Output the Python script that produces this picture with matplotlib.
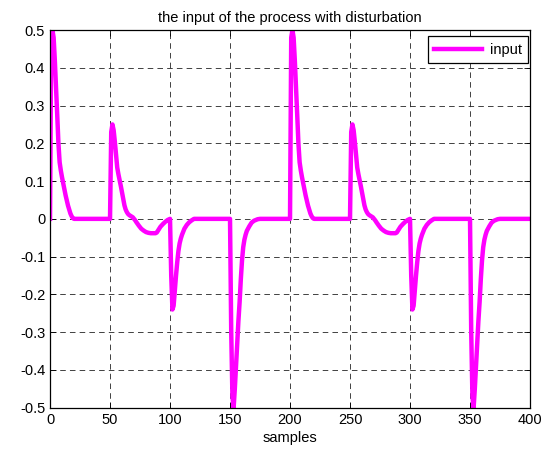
import numpy as np
import matplotlib.pyplot as plt

### Data ###
samples = [0, 1, 2, 3, 4, 5, 6, 7, 8, 9, 10, 11, 12, 13, 14, 15, 16, 17, 18, 19, 20,
           50, 51, 52, 53, 54, 55, 56, 57, 58, 59, 60, 61, 62, 63, 64, 65, 66, 67, 68, 69,
           70, 71, 72, 74, 76, 78, 80, 82, 84, 88, 89, 90, 91, 92, 94, 96, 98,
           100, 101, 102, 103, 104, 105, 106, 107, 108, 109, 110, 112, 114, 116, 118, 120,
           150, 151, 152, 153, 154, 155, 156, 157, 158, 159, 160, 161, 162, 163, 164, 166,
           168, 170, 173, 175,
           200, 201, 202, 203, 204, 205, 206, 207, 208, 209, 210, 211, 212, 213, 214, 215,
           216, 217, 218, 219, 220,
           250, 251, 252, 253, 254, 255, 256, 257, 258, 259, 260, 261, 262, 263, 264, 265,
           266, 267, 268, 269, 270, 271, 272, 274, 276, 278, 280, 282, 284, 288, 289, 290,
           291, 292, 294, 296, 298,
           300, 301, 302, 303, 304, 305, 306, 307, 308, 309, 310, 312, 314, 316, 318, 320,
           350, 351, 352, 353, 354, 355, 356, 357, 358, 359, 360, 361, 362, 363, 364, 366,
           368, 370, 373, 375, 400]

u = [0, 0.48, 0.5, 0.48, 0.42, 0.35, 0.275, 0.2, 0.15, 0.128, 0.11, 0.094, 0.078, 0.062,
     0.048, 0.035, 0.024, 0.014, 0.007, 0.002, 0,
     0, 0.23, 0.25, 0.235, 0.205, 0.17, 0.136, 0.118, 0.103, 0.087, 0.07, 0.052, 0.036,
     0.025, 0.018, 0.013, 0.01, 0.008, 0.006, 0.004,
     0, -0.004, -0.009, -0.018, -0.026, -0.031, -0.035, -0.037, -0.038, -0.038, -0.036,
     -0.031, -0.026, -0.021, -0.014, -0.008, -0.003,
     0, -0.15, -0.24, -0.23, -0.19, -0.15, -0.115, -0.085, -0.065, -0.052, -0.042, -0.026,
     -0.016, -0.009, -0.004, 0,
     0, -0.3, -0.47, -0.5, -0.45, -0.39, -0.33, -0.27, -0.22, -0.16, -0.11, -0.075, -0.055,
     -0.042, -0.032, -0.02, -0.01, -0.005, -0.001, 0,
     0, 0.48, 0.5, 0.48, 0.42, 0.35, 0.275, 0.2, 0.15, 0.128, 0.11, 0.094, 0.078, 0.062,
     0.048, 0.035, 0.024, 0.014, 0.007, 0.002, 0,
     0, 0.23, 0.25, 0.235, 0.205, 0.17, 0.136, 0.118, 0.103, 0.087, 0.07, 0.052, 0.036,
     0.025, 0.018, 0.013, 0.01, 0.008, 0.006, 0.004,
     0, -0.004, -0.009, -0.018, -0.026, -0.031, -0.035, -0.037, -0.038, -0.038, -0.036,
     -0.031, -0.026, -0.021, -0.014, -0.008, -0.003,
     0, -0.15, -0.24, -0.23, -0.19, -0.15, -0.115, -0.085, -0.065, -0.052, -0.042, -0.026,
     -0.016, -0.009, -0.004, 0,
     0, -0.3, -0.47, -0.5, -0.45, -0.39, -0.33, -0.27, -0.22, -0.16, -0.11, -0.075, -0.055,
     -0.042, -0.032, -0.02, -0.01, -0.005, -0.001, 0, 0]

xticks = [0, 50, 100, 150, 200, 250, 300, 350, 400]
yticks = [-0.5, -0.4, -0.3, -0.2, -0.1, 0, 0.1, 0.2, 0.3, 0.4, 0.5]
ytick_labels = ['-0.5', '-0.4', '-0.3', '-0.2', '-0.1', '0', '0.1', '0.2', '0.3', '0.4', '0.5']

### Plotting ###
plt.rcParams['font.family'] = ['Liberation Sans', 'DejaVu Sans']
plt.rcParams['font.size'] = 10.5
plt.rcParams['lines.scale_dashes'] = False

fig = plt.figure(figsize=(5.54, 4.5), dpi=100)
ax = fig.add_axes([0.0903, 0.094, 0.8664, 0.8393])

ax.plot(samples, u, color='#ff00ff', lw=3.2, label='input', solid_joinstyle='round')

ax.set_xlim(0, 400)
ax.set_ylim(-0.5, 0.5)
ax.set_xticks(xticks)
ax.set_yticks(yticks)
ax.set_yticklabels(ytick_labels)
ax.tick_params(direction='in', length=4, width=0.6, top=True, right=True, pad=3.5)
ax.grid(True, color='#222222', lw=0.6, linestyle=(0, (4, 3)))
for sp in ax.spines.values():
    sp.set_linewidth(0.9)

ax.set_title('the input of the process with disturbation', fontsize=10.5, pad=6)
ax.set_xlabel('samples', labelpad=3)

leg = ax.legend(loc='upper right', bbox_to_anchor=(0.996, 0.984), borderaxespad=0,
                fancybox=False, edgecolor='k', framealpha=1, handlelength=3.3,
                borderpad=0.45, handletextpad=0.5)
leg.get_frame().set_linewidth(0.9)

fig.savefig('out.png', dpi=100)
